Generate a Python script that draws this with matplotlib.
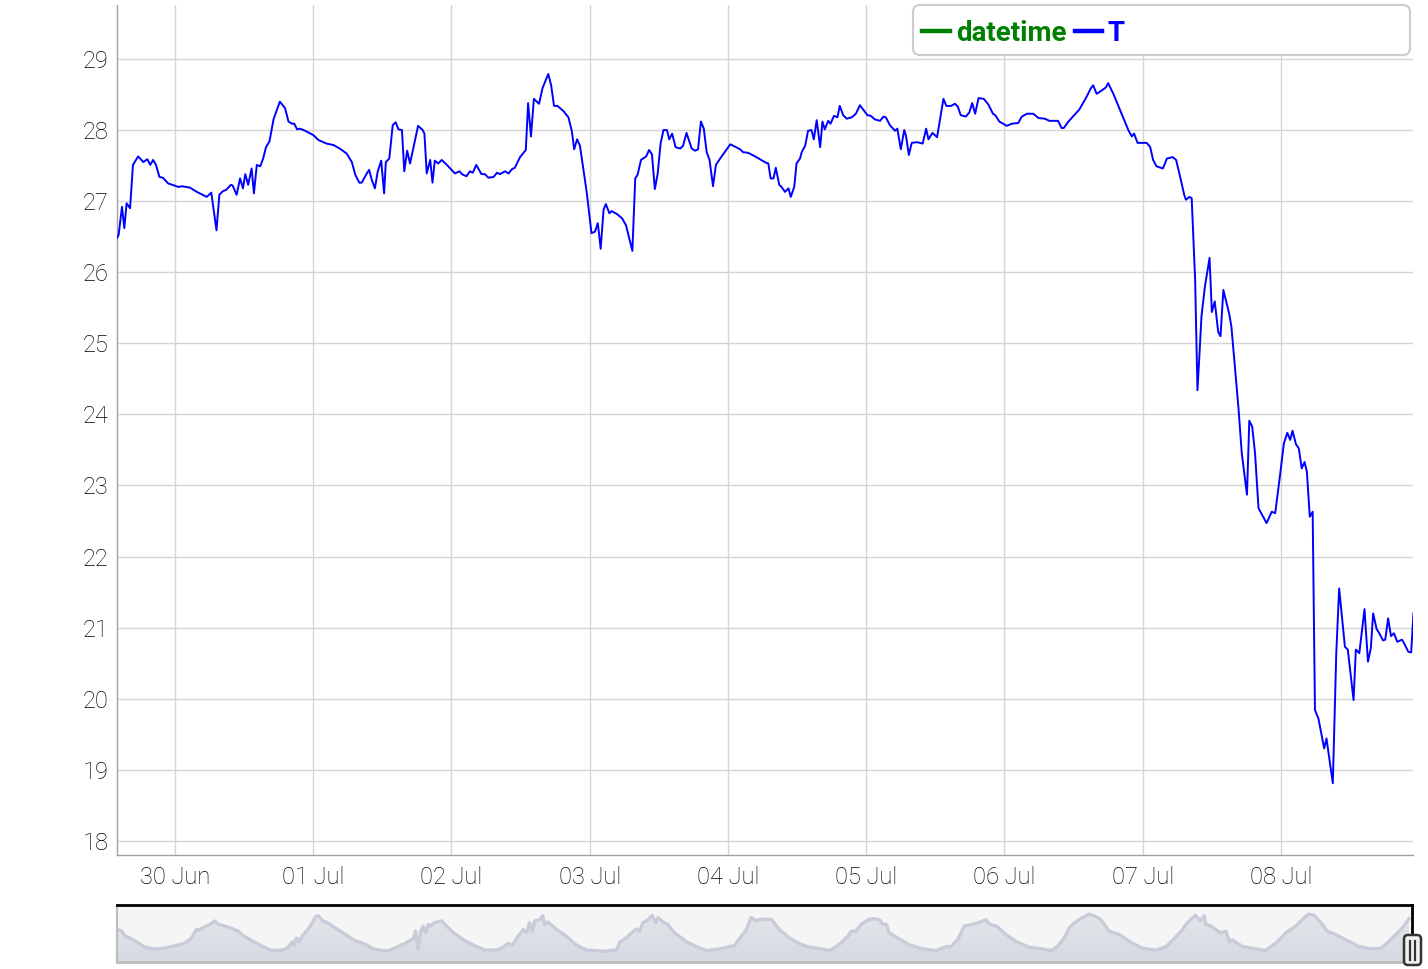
import numpy as np
import pandas as pd
import matplotlib
matplotlib.use('Agg')
import matplotlib.pyplot as plt
import matplotlib.dates as mdates
from matplotlib.colors import LinearSegmentedColormap
from matplotlib.patches import FancyBboxPatch
from matplotlib.lines import Line2D
from matplotlib.transforms import IdentityTransform

start = pd.Timestamp('2021-06-29 00:00')

# main series: hours since start, temperature T
t_hours = [
    13.9, 14.2, 14.8, 15.2, 15.6, 16.2, 16.7, 17.6, 18.5, 19.2,
    19.7, 20.2, 20.7, 21.3, 21.9, 22.8, 24.6, 25.2, 26.6, 27.8,
    29.5, 30.3, 31.2, 31.7, 32.3, 32.9, 33.7, 34.0, 34.7, 35.3,
    35.8, 36.2, 36.7, 37.3, 37.7, 38.2, 38.8, 39.3, 39.8, 40.4,
    41.1, 42.2, 43.1, 43.7, 44.3, 44.7, 45.2, 45.7, 46.6, 48.0,
    48.9, 50.3, 51.5, 52.6, 53.8, 54.7, 55.3, 56.0, 56.4, 57.3,
    57.7, 58.2, 58.7, 59.2, 59.8, 60.3, 60.6, 61.2, 61.8, 62.3,
    62.8, 63.4, 63.8, 64.3, 64.8, 66.2, 67.0, 67.3, 67.7, 68.3,
    68.7, 69.1, 69.7, 70.3, 71.2, 72.6, 73.4, 73.8, 74.6, 75.2,
    75.7, 76.3, 77.2, 77.8, 78.4, 79.3, 79.9, 80.4, 81.3, 81.9,
    82.5, 83.0, 83.9, 84.9, 85.3, 85.8, 86.3, 87.2, 87.8, 88.8,
    89.3, 89.8, 90.4, 91.4, 92.3, 92.9, 93.3, 93.8, 94.3, 95.5,
    96.3, 96.9, 97.4, 97.9, 98.4, 98.8, 99.4, 99.8, 100.7, 101.6,
    102.3, 103.4, 103.9, 104.3, 104.9, 105.8, 106.3, 106.8, 107.3, 107.8,
    108.3, 108.8, 109.4, 109.8, 110.3, 110.9, 111.7, 112.2, 112.8, 113.7,
    114.3, 114.8, 115.3, 115.8, 116.3, 116.8, 117.4, 117.9, 118.9, 120.4,
    120.9, 122.1, 122.6, 123.5, 124.7, 126.6, 127.0, 127.4, 127.9, 128.3,
    128.9, 129.3, 129.9, 130.5, 130.9, 131.5, 131.9, 132.5, 132.8, 133.4,
    133.9, 134.5, 134.9, 135.4, 136.0, 136.4, 136.8, 137.4, 137.8, 138.4,
    139.0, 139.4, 140.0, 140.6, 141.5, 142.2, 142.9, 144.2, 144.8, 145.5,
    146.4, 147.0, 147.4, 148.1, 149.0, 149.4, 150.0, 150.6, 150.9, 151.4,
    151.9, 152.8, 153.8, 154.4, 154.8, 155.5, 156.3, 157.4, 157.9, 158.7,
    159.4, 159.9, 160.4, 161.3, 161.9, 162.4, 162.9, 163.5, 164.4, 165.2,
    166.0, 166.4, 167.1, 168.4, 169.3, 170.4, 171.0, 171.9, 173.0, 173.9,
    175.0, 175.8, 177.3, 177.9, 178.3, 179.1, 181.0, 182.2, 183.0, 183.4,
    184.0, 185.1, 185.6, 186.0, 186.9, 189.5, 190.1, 190.5, 191.1, 192.7,
    193.3, 193.8, 194.4, 195.5, 196.2, 197.2, 197.8, 198.5, 199.2, 199.5,
    200.1, 200.5, 201.1, 201.5, 201.8, 202.2, 202.8, 203.6, 204.0, 204.5,
    205.1, 205.5, 206.0, 207.0, 207.4, 208.6, 209.2, 210.1, 210.5, 211.0,
    211.5, 212.1, 213.5, 214.4, 215.0, 215.8, 216.5, 217.1, 217.6, 218.0,
    218.6, 219.1, 219.6, 220.1, 220.5, 221.0, 221.5, 221.9, 222.5, 223.5,
    223.9, 225.0, 225.6, 226.1, 227.1, 227.6, 228.6, 229.0, 229.6, 230.5,
    231.1, 231.6, 232.0, 232.6, 233.0, 233.7, 234.1, 234.6, 235.1, 235.6,
    236.2, 237.0, 237.5, 238.1, 238.6, 239.0,
]
temp = [
    26.48, 26.52, 26.92, 26.62, 26.97, 26.90, 27.51, 27.63, 27.55, 27.59,
    27.51, 27.58, 27.51, 27.34, 27.33, 27.25, 27.20, 27.21, 27.19, 27.13,
    27.06, 27.12, 26.59, 27.09, 27.14, 27.16, 27.23, 27.22, 27.09, 27.32,
    27.18, 27.38, 27.23, 27.46, 27.11, 27.51, 27.49, 27.60, 27.76, 27.84,
    28.15, 28.40, 28.31, 28.12, 28.09, 28.09, 28.01, 28.02, 27.99, 27.93,
    27.86, 27.81, 27.79, 27.74, 27.67, 27.55, 27.37, 27.26, 27.26, 27.39,
    27.44, 27.29, 27.18, 27.42, 27.57, 27.11, 27.55, 27.60, 28.07, 28.11,
    28.01, 28.00, 27.42, 27.71, 27.53, 28.06, 28.00, 27.95, 27.39, 27.58,
    27.26, 27.57, 27.53, 27.58, 27.51, 27.39, 27.42, 27.38, 27.35, 27.42,
    27.40, 27.51, 27.38, 27.38, 27.33, 27.34, 27.40, 27.38, 27.42, 27.39,
    27.45, 27.47, 27.62, 27.72, 28.38, 27.91, 28.44, 28.37, 28.59, 28.79,
    28.63, 28.34, 28.34, 28.27, 28.18, 27.98, 27.73, 27.87, 27.78, 27.11,
    26.55, 26.57, 26.69, 26.33, 26.88, 26.96, 26.83, 26.86, 26.82, 26.76,
    26.66, 26.30, 27.32, 27.37, 27.58, 27.63, 27.72, 27.66, 27.17, 27.39,
    27.81, 28.00, 28.00, 27.87, 27.95, 27.76, 27.74, 27.78, 27.96, 27.74,
    27.71, 27.73, 28.12, 28.02, 27.69, 27.58, 27.21, 27.51, 27.63, 27.80,
    27.78, 27.73, 27.69, 27.68, 27.63, 27.54, 27.53, 27.32, 27.32, 27.47,
    27.23, 27.20, 27.13, 27.18, 27.06, 27.20, 27.53, 27.60, 27.69, 27.78,
    27.99, 28.00, 27.87, 28.14, 27.76, 28.12, 28.01, 28.13, 28.09, 28.20,
    28.18, 28.34, 28.21, 28.16, 28.18, 28.23, 28.35, 28.21, 28.20, 28.15,
    28.13, 28.19, 28.18, 28.07, 27.99, 28.02, 27.73, 28.00, 27.92, 27.65,
    27.82, 27.83, 27.81, 28.02, 27.87, 27.96, 27.90, 28.44, 28.34, 28.34,
    28.37, 28.33, 28.21, 28.19, 28.25, 28.38, 28.23, 28.45, 28.44, 28.36,
    28.23, 28.21, 28.12, 28.06, 28.09, 28.10, 28.19, 28.23, 28.23, 28.17,
    28.16, 28.13, 28.13, 28.03, 28.03, 28.12, 28.29, 28.46, 28.59, 28.63,
    28.51, 28.57, 28.60, 28.66, 28.51, 28.00, 27.91, 27.95, 27.82, 27.82,
    27.76, 27.58, 27.49, 27.46, 27.60, 27.62, 27.58, 27.34, 27.09, 27.02,
    27.06, 27.04, 25.89, 24.34, 24.77, 25.38, 25.80, 26.20, 25.44, 25.59,
    25.16, 25.10, 25.75, 25.42, 25.23, 24.11, 23.45, 22.87, 23.91, 23.83,
    23.45, 22.68, 22.47, 22.63, 22.61, 23.12, 23.59, 23.74, 23.64, 23.77,
    23.58, 23.52, 23.24, 23.33, 23.19, 22.56, 22.63, 19.84, 19.72, 19.30,
    19.44, 18.81, 20.64, 21.55, 20.73, 20.69, 19.98, 20.69, 20.64, 21.26,
    20.52, 20.71, 21.20, 20.98, 20.93, 20.82, 20.83, 21.13, 20.88, 20.92,
    20.80, 20.83, 20.76, 20.66, 20.65, 21.20,
]

# overview series drawn in the range selector (hours since start, level 0-10)
ov_hours = [
    14.0, 14.8, 15.3, 16.2, 17.4, 18.8, 20.2, 22.0, 24.3, 25.7,
    26.9, 27.7, 28.1, 29.2, 30.1, 30.9, 31.5, 32.7, 34.1, 35.0,
    35.9, 37.6, 39.3, 40.5, 42.2, 43.4, 44.0, 44.4, 44.7, 45.1,
    45.5, 46.3, 47.1, 47.7, 48.5, 48.9, 49.7, 50.6, 52.1, 53.2,
    55.0, 57.3, 58.4, 60.8, 61.9, 63.1, 63.9, 64.5, 65.4, 65.8,
    66.2, 66.7, 67.1, 67.5, 68.0, 68.4, 69.1, 70.3, 71.2, 72.3,
    74.1, 75.8, 77.8, 79.9, 81.0, 81.9, 82.6, 83.6, 84.5, 85.1,
    85.6, 86.1, 86.5, 87.4, 87.9, 88.2, 88.8, 90.3, 92.0, 93.7,
    95.5, 98.4, 100.7, 101.3, 102.4, 103.3, 104.2, 104.7, 105.3, 106.2,
    106.9, 107.5, 107.9, 108.8, 109.6, 110.8, 112.8, 114.6, 116.3, 118.6,
    121.2, 122.4, 123.3, 124.1, 125.0, 125.3, 126.4, 127.6, 129.0, 130.8,
    132.5, 134.2, 136.3, 137.7, 138.9, 140.0, 140.9, 141.5, 142.3, 143.2,
    144.4, 145.5, 146.4, 147.0, 147.6, 148.1, 149.6, 151.6, 153.9, 156.2,
    158.0, 158.8, 160.0, 161.1, 162.6, 163.8, 164.9, 165.5, 166.7, 168.4,
    170.1, 172.4, 174.7, 176.2, 177.3, 178.5, 179.4, 180.2, 181.7, 182.8,
    183.7, 184.9, 186.3, 188.1, 189.8, 192.1, 194.4, 196.2, 197.6, 198.8,
    199.9, 201.3, 202.1, 202.8, 203.1, 204.0, 204.8, 205.7, 206.6, 207.2,
    207.7, 209.5, 211.8, 213.5, 214.4, 215.3, 217.0, 218.7, 219.9, 221.0,
    221.9, 223.1, 224.2, 225.7, 227.4, 229.7, 232.0, 233.5, 234.6, 235.8,
    236.7, 237.5, 238.4,
]
ov_level = [
    5.7, 5.4, 4.6, 4.2, 3.5, 2.6, 2.3, 2.4, 2.9, 3.3,
    4.2, 5.7, 5.6, 6.2, 6.6, 7.2, 6.6, 6.3, 5.8, 5.4,
    4.6, 3.6, 2.7, 2.1, 2.0, 2.4, 3.0, 3.5, 3.0, 4.2,
    3.6, 4.8, 5.7, 6.6, 8.0, 8.1, 7.2, 6.8, 5.8, 5.1,
    3.9, 3.0, 2.3, 1.9, 2.3, 2.9, 3.2, 3.6, 4.1, 5.4,
    2.3, 5.4, 6.3, 5.1, 6.6, 6.3, 6.9, 7.2, 6.3, 5.2,
    3.9, 3.0, 2.1, 2.1, 2.6, 3.3, 2.9, 4.5, 5.7, 5.1,
    6.9, 5.4, 7.2, 7.4, 8.1, 6.6, 7.0, 5.7, 4.5, 3.0,
    2.1, 1.9, 2.1, 3.5, 4.2, 5.1, 5.8, 5.4, 6.9, 7.4,
    8.2, 6.9, 7.8, 7.0, 6.6, 5.1, 3.6, 2.7, 2.0, 2.3,
    2.9, 4.5, 5.7, 7.8, 7.2, 7.4, 7.5, 7.5, 5.7, 4.2,
    3.2, 2.6, 2.3, 2.0, 2.7, 3.6, 4.5, 5.4, 5.4, 6.6,
    7.4, 7.6, 7.4, 6.6, 6.6, 5.1, 4.2, 3.0, 2.3, 2.0,
    2.7, 2.7, 3.9, 6.3, 6.6, 7.0, 7.4, 6.6, 6.3, 4.8,
    3.6, 2.6, 2.3, 2.0, 2.7, 4.2, 6.0, 6.8, 7.8, 8.4,
    8.1, 7.4, 5.4, 4.8, 3.6, 2.4, 2.1, 2.7, 4.1, 5.4,
    6.9, 8.2, 7.2, 8.1, 6.6, 6.3, 5.7, 5.1, 5.4, 3.5,
    3.9, 2.7, 2.3, 2.0, 2.7, 3.3, 5.1, 6.3, 7.5, 8.4,
    8.2, 6.9, 5.4, 4.8, 3.9, 2.7, 2.3, 2.4, 3.3, 4.5,
    5.4, 6.3, 7.6,
]

y_ticks = list(range(18, 30))
x_window = (13.93, 238.92)   # visible range, hours since start

plt.rcParams['font.family'] = ['Roboto', 'DejaVu Sans']

W, H = 1428, 969
fig = plt.figure(figsize=(W / 100, H / 100), dpi=100)

# main chart
ax = fig.add_axes([117 / W, 1 - 855 / H, 1296 / W, 850 / H])
times = start + pd.to_timedelta(t_hours, unit='h')
ax.plot(times, temp, color='#0000ff', lw=1.4, zorder=3)
ax.set_xlim(start + pd.Timedelta(hours=x_window[0]),
            start + pd.Timedelta(hours=x_window[1]))
ax.set_ylim(17.8, 29.76)
ax.set_yticks(y_ticks)
ax.xaxis.set_major_locator(mdates.DayLocator())
ax.xaxis.set_major_formatter(mdates.DateFormatter('%d %b'))
ax.grid(color='#d4d4d4', lw=1)
ax.set_axisbelow(True)
for side in ['top', 'right']:
    ax.spines[side].set_visible(False)
for side in ['left', 'bottom']:
    ax.spines[side].set_color('#a0a0a0')
    ax.spines[side].set_linewidth(1)
ax.tick_params(length=0, labelsize=17, colors='#000000')
ax.tick_params(axis='y', pad=6)
ax.tick_params(axis='x', pad=8)
for lab in ax.get_xticklabels() + ax.get_yticklabels():
    lab.set_fontweight('light')

# legend box
px = IdentityTransform()
box = FancyBboxPatch((913, H - 55), 497, 50, boxstyle='round,pad=0,rounding_size=7',
                     transform=px, facecolor='white', edgecolor='#cccccc', lw=1.5,
                     figure=fig, zorder=10)
fig.patches.append(box)
fig.lines.append(Line2D([922, 950], [H - 31, H - 31], transform=px, color='#008000', lw=3.2, zorder=11))
fig.lines.append(Line2D([1075, 1102], [H - 31, H - 31], transform=px, color='#0000ff', lw=3.2, zorder=11))
fig.text(956, H - 41, 'datetime', transform=px, color='#008000', fontsize=20,
         fontweight='bold', va='baseline', ha='left', zorder=12)
fig.text(1108, H - 41, 'T', transform=px, color='#0000ff', fontsize=20,
         fontweight='bold', va='baseline', ha='left', zorder=12)

# range selector
ax2 = fig.add_axes([117 / W, 1 - 962 / H, 1295 / W, 57 / H])
ax2.set_facecolor('#f5f5f5')
ax2.set_xlim(*x_window)
ax2.set_ylim(0, 10)
poly = ax2.fill_between(ov_hours, ov_level, 0, color='none', lw=0)
cmap = LinearSegmentedColormap.from_list('sel', ['#d6d9e0', '#e6e8ed'])
grad = np.linspace(0, 1, 64).reshape(-1, 1)
img = ax2.imshow(grad, extent=[x_window[0], x_window[1], 0, 10], origin='lower',
                 aspect='auto', cmap=cmap, zorder=1)
img.set_clip_path(poly.get_paths()[0], transform=ax2.transData)
ax2.plot(ov_hours, ov_level, color='#c8ccd9', lw=2.4, zorder=2)
ax2.set_xticks([])
ax2.set_yticks([])
ax2.spines['top'].set_color('black')
ax2.spines['top'].set_linewidth(2)
ax2.spines['right'].set_color('black')
ax2.spines['right'].set_linewidth(2)
ax2.spines['bottom'].set_color('#bdbdbd')
ax2.spines['bottom'].set_linewidth(2)
ax2.spines['left'].set_color('#bdbdbd')
ax2.spines['left'].set_linewidth(1.5)

# right handle of the range selector
handle = FancyBboxPatch((1404, H - 965), 17, 30, boxstyle='round,pad=0,rounding_size=4',
                        transform=px, facecolor='#f0f0f0', edgecolor='#333333', lw=1.8,
                        figure=fig, zorder=10)
fig.patches.append(handle)
for hx in [1410, 1415]:
    fig.lines.append(Line2D([hx, hx], [H - 960, H - 941], transform=px,
                            color='#333333', lw=1.6, zorder=11))

fig.savefig('out.png', dpi=100)
